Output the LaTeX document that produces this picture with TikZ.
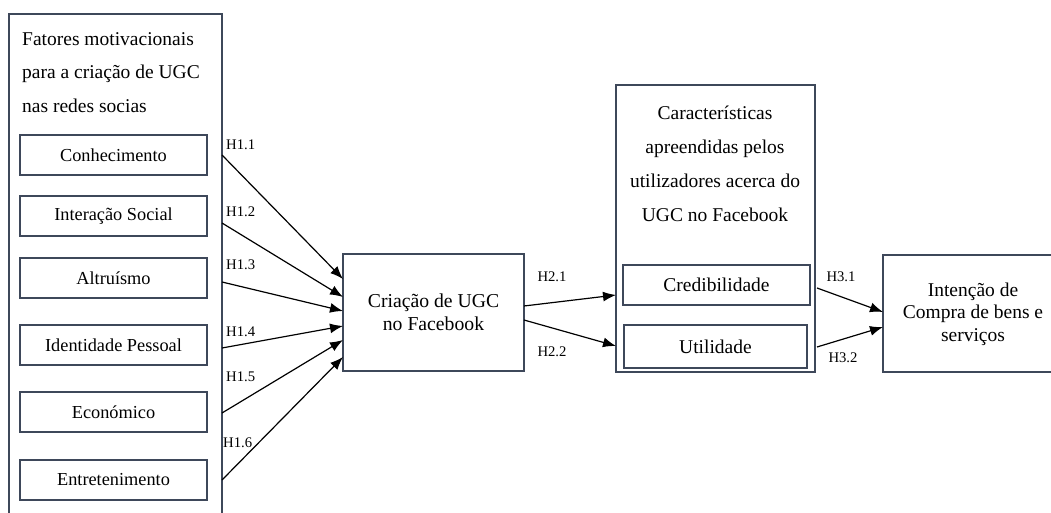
\documentclass[tikz,border=0pt]{standalone}
\usepackage{fontspec}
\setmainfont{Liberation Serif}
\usetikzlibrary{arrows.meta}
\definecolor{boxline}{RGB}{62,72,90}
\tikzset{
  frame/.style={draw=boxline, line width=1.3pt, rectangle, inner sep=0pt},
  factor/.style={frame, minimum width=187pt, minimum height=40pt, font=\fontsize{18.3}{22}\selectfont},
  sub/.style={frame, font=\fontsize{19.5}{22}\selectfont},
  hyp/.style={font=\fontsize{14.7}{16}\selectfont, inner sep=0pt},
  link/.style={draw=black, line width=1.2pt, -{Latex[length=13pt,width=10pt]}},
}
\begin{document}
\begin{tikzpicture}[x=1pt,y=-1pt]
\useasboundingbox (0,0) rectangle (1051,513);
\clip (0,0) rectangle (1051,513);
\fill[white] (0,0) rectangle (1051,513);
% left container
\node[frame, minimum width=213pt, minimum height=520pt] (fat) at (115.5,274) {};
\node[anchor=north west, align=left, inner sep=0pt, font=\fontsize{19.5}{33.5}\selectfont] (fattitle) at (22,32) {Fatores motivacionais\\para a criação de UGC\\nas redes socias};
\node[factor] (c1) at (113.5,155) {Conhecimento};
\node[factor] (c2) at (113.5,216) {Interação Social};
\node[factor] (c3) at (113.5,278) {Altruísmo};
\node[factor] (c4) at (113.5,345) {Identidade Pessoal};
\node[factor] (c5) at (113.5,412) {Económico};
\node[factor] (c6) at (113.5,480) {Entretenimento};
% middle box
\node[frame, minimum width=181pt, minimum height=117pt, align=center, font=\fontsize{19.7}{22.5}\selectfont] (ugc) at (433.5,312.5) {Criação de UGC\\no Facebook};
% right container
\node[frame, minimum width=199pt, minimum height=287pt] (car) at (715.5,228.5) {};
\node[align=center, inner sep=0pt, font=\fontsize{19.5}{34}\selectfont] (cartitle) at (715,164) {Características\\apreendidas pelos\\utilizadores acerca do\\UGC no Facebook};
\node[sub, minimum width=187pt, minimum height=40pt] (cred) at (716.5,285) {Credibilidade};
\node[sub, minimum width=183pt, minimum height=43pt] (util) at (715.5,346.5) {Utilidade};
% final box
\node[frame, minimum width=180pt, minimum height=117pt] (int) at (973,313.5) {};
\node[align=center, inner sep=0pt, font=\fontsize{19.5}{22.5}\selectfont] (inttext) at (973,314) {Intenção de\\Compra de bens e\\serviços};
% start / end points
\coordinate (s1) at (222,155);
\coordinate (s2) at (222,223);
\coordinate (s3) at (222,282);
\coordinate (s4) at (222,348);
\coordinate (s5) at (222,413);
\coordinate (s6) at (222,480);
\coordinate (e1) at (343,279);
\coordinate (e2) at (343,297);
\coordinate (e3) at (343,311);
\coordinate (e4) at (343,326);
\coordinate (e5) at (343,340);
\coordinate (e6) at (343,357);
\draw[link] (s1) -- (e1);
\draw[link] (s2) -- (e2);
\draw[link] (s3) -- (e3);
\draw[link] (s4) -- (e4);
\draw[link] (s5) -- (e5);
\draw[link] (s6) -- (e6);
\node[hyp, anchor=west] (h11) at (226,145) {H1.1};
\node[hyp, anchor=west] (h12) at (226,212) {H1.2};
\node[hyp, anchor=west] (h13) at (226,265) {H1.3};
\node[hyp, anchor=west] (h14) at (226,332) {H1.4};
\node[hyp, anchor=west] (h15) at (226,377) {H1.5};
\node[hyp, anchor=west] (h16) at (223,443) {H1.6};
% H2
\coordinate (u1) at (524,306);
\coordinate (u2) at (524,320);
\coordinate (k1) at (616,295);
\coordinate (k2) at (616,346);
\draw[link] (u1) -- (k1);
\draw[link] (u2) -- (k2);
\node[hyp] (h21) at (552,277) {H2.1};
\node[hyp] (h22) at (552,352) {H2.2};
% H3
\coordinate (r1) at (817,288);
\coordinate (r2) at (817,347);
\coordinate (t1) at (883,312);
\coordinate (t2) at (883,327);
\draw[link] (r1) -- (t1);
\draw[link] (r2) -- (t2);
\node[hyp] (h31) at (841,277) {H3.1};
\node[hyp] (h32) at (843,358) {H3.2};
\end{tikzpicture}
\end{document}
